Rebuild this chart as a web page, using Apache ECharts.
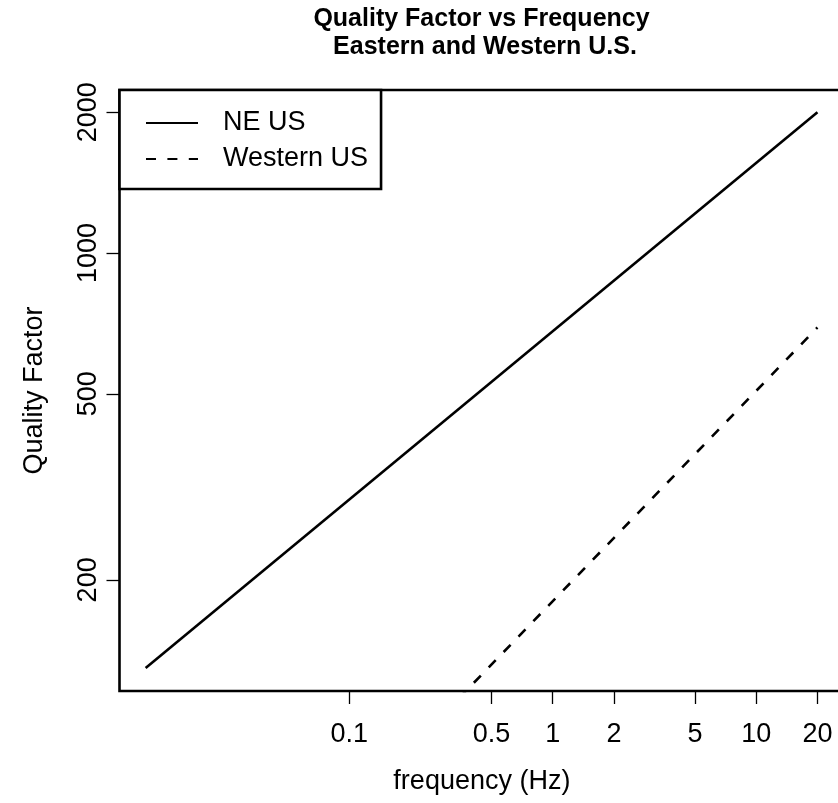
<!DOCTYPE html>
<html><head><meta charset="utf-8">
<script src="https://cdn.jsdelivr.net/npm/echarts@6/dist/echarts.min.js"></script>
<style>html,body{margin:0;padding:0;background:#fff}#c{width:838px;height:803px}</style>
</head><body><div id="c"></div>
<script>
// Data (log-log straight lines)
const neFreq = [0.01, 20];
const neQ = [129.5, 2000];
const wFreq = [20, 0.3];
const wQ = [693, 104.7];
const xTicks = [0.1, 0.5, 1, 2, 5, 10, 20];
const xTickLabels = ['0.1', '0.5', '1', '2', '5', '10', '20'];
const yTicks = [200, 500, 1000, 2000];
const yTickLabels = ['200', '500', '1000', '2000'];
const seriesNames = ['NE US', 'Western US'];
const titleText = 'Quality Factor vs Frequency\n Eastern and Western U.S.';
const xName = 'frequency (Hz)';
const yName = 'Quality Factor';

const FONT = 'Liberation Sans, Arial, Helvetica, sans-serif';
function labelFor(ticks, labels) {
  return function (v) {
    for (let i = 0; i < ticks.length; i++) {
      if (Math.abs(Math.log10(v / ticks[i])) < 1e-6) return labels[i];
    }
    return '';
  };
}
const pairs = (a, b) => a.map((x, i) => [x, b[i]]);

const chart = echarts.init(document.getElementById('c'), null, { renderer: 'canvas' });
chart.setOption({
  animation: false,
  backgroundColor: '#fff',
  title: {
    text: titleText,
    left: 481.5,
    top: 5,
    padding: 0,
    textAlign: 'center',
    textStyle: { fontFamily: FONT, fontSize: 25, fontWeight: 'bold', color: '#000', lineHeight: 28.4 }
  },
  legend: {
    data: seriesNames,
    orient: 'vertical',
    left: 119.5,
    top: 90,
    padding: [19.5, 13, 16.5, 25.5],
    itemGap: 9,
    itemWidth: 52,
    itemHeight: 14,
    backgroundColor: '#fff',
    borderColor: '#000',
    borderWidth: 2.6,
    borderRadius: 0,
    itemStyle: { opacity: 0 },
    lineStyle: { dashOffset: 0 },
    textStyle: { fontFamily: FONT, fontSize: 27, color: '#000', padding: [0, 0, 0, 20] }
  },
  grid: {
    left: 119.5, top: 90, bottom: 112, right: -6.3,
    show: true, borderColor: '#000', borderWidth: 2.6, backgroundColor: 'transparent',
    containLabel: false, outerBoundsMode: 'none'
  },
  xAxis: {
    type: 'log', logBase: 10, min: 0.00744, max: 27.1,
    name: xName, nameLocation: 'middle', nameGap: 91,
    nameTextStyle: { fontFamily: FONT, fontSize: 27, color: '#000', align: 'center', verticalAlign: 'middle' },
    axisLine: { show: false },
    splitLine: { show: false },
    minorTick: { show: false },
    axisTick: { show: true, inside: false, length: 13, customValues: xTicks, lineStyle: { color: '#000', width: 1.3 } },
    axisLabel: { show: true, customValues: xTicks, margin: 44, fontFamily: FONT, fontSize: 27, color: '#000',
      align: 'center', verticalAlign: 'middle', formatter: labelFor(xTicks, xTickLabels) }
  },
  yAxis: {
    type: 'log', logBase: 10, min: 115.7, max: 2232,
    name: yName, nameLocation: 'middle', nameGap: 84.5, nameRotate: 90,
    nameTextStyle: { fontFamily: FONT, fontSize: 27, color: '#000', align: 'center', verticalAlign: 'middle' },
    axisLine: { show: false },
    splitLine: { show: false },
    minorTick: { show: false },
    axisTick: { show: true, inside: false, length: 13, customValues: yTicks, lineStyle: { color: '#000', width: 1.3 } },
    axisLabel: { show: true, customValues: yTicks, margin: 31, rotate: 90, fontFamily: FONT, fontSize: 27, color: '#000',
      align: 'center', verticalAlign: 'middle', formatter: labelFor(yTicks, yTickLabels) }
  },
  series: [
    {
      name: seriesNames[0], type: 'line', data: pairs(neFreq, neQ), symbol: 'none', clip: true,
      itemStyle: { color: '#000' },
      lineStyle: { color: '#000', width: 2.6, type: 'solid' }
    },
    {
      name: seriesNames[1], type: 'line', data: pairs(wFreq, wQ), symbol: 'none', clip: true,
      itemStyle: { color: '#000' },
      lineStyle: { color: '#000', width: 2.6, type: [10, 11.4], dashOffset: 8 }
    }
  ]
});
</script>
</body></html>
